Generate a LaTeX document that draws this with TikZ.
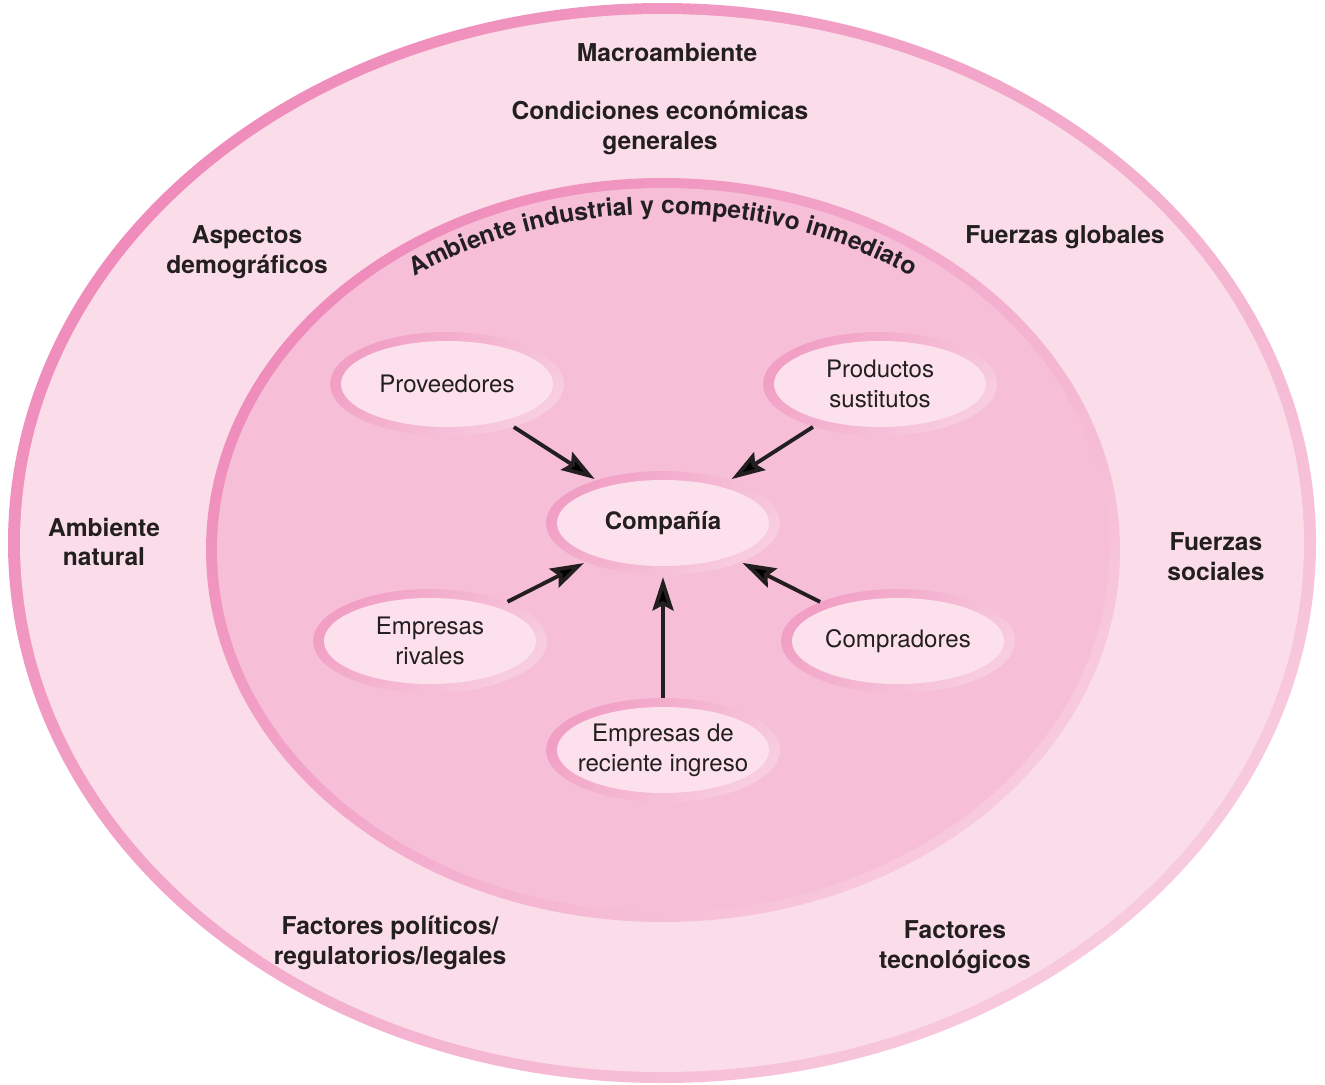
\documentclass[tikz,border=0pt]{standalone}
\usepackage{fontspec}
\setmainfont{TeX Gyre Heros}
\usetikzlibrary{arrows.meta,shapes.geometric,decorations.text}
\definecolor{ink}{HTML}{231F20}
\definecolor{outerfill}{HTML}{FBDDE9}
\definecolor{innerfill}{HTML}{F6BFD7}
\definecolor{ovalfill}{HTML}{FCE1EC}
\definecolor{rimdark}{HTML}{EF8CBB}
\definecolor{rimlight}{HTML}{F8CADD}
\definecolor{ovaldark}{HTML}{F19FC4}
\definecolor{ovallight}{HTML}{F8CDE0}

\begin{document}
\begin{tikzpicture}[x=0.02cm, y=0.02cm,
    bigrim/.style={left color=rimdark, right color=rimlight, shading angle=45},
    ovalrim/.style={left color=ovaldark, right color=ovallight, shading angle=45},
    macro/.style={font=\bfseries\fontsize{14}{17}\selectfont, text=ink, align=center},
    oval/.style={ellipse, minimum width=4.68cm, minimum height=2.08cm, inner sep=0pt,
      align=center, font=\fontsize{13.7}{17}\selectfont, text=ink},
    arr/.style={-{Stealth[length=19pt, width=12pt, inset=3pt]}, line width=2.2pt, draw=ink, shorten >=1pt}]
	%%%%% START %%%%%
	\useasboundingbox (0,0) rectangle (1325,-1085);

	% macroambiente
	\shade[bigrim] (662,-543) ellipse [x radius=654, y radius=540];
	\fill[outerfill] (662,-543) ellipse [x radius=642, y radius=529];

	% ambiente industrial
	\shade[bigrim] (663,-550) ellipse [x radius=457, y radius=372];
	\fill[innerfill] (663,-550) ellipse [x radius=446, y radius=362];

	\node[macro] (macro) at (667,-52) {Macroambiente};
	\node[macro] (econ) at (660,-128) {Condiciones económicas\\generales};
	\node[macro] (demo) at (247,-252) {Aspectos\\demográficos};
	\node[macro] (glob) at (1065,-237) {Fuerzas globales};
	\node[macro] (natu) at (104,-542) {Ambiente\\natural};
	\node[macro] (soci) at (1216,-557) {Fuerzas\\sociales};
	\node[macro] (poli) at (390,-943) {Factores políticos/\\regulatorios/legales};
	\node[macro] (tecn) at (955,-947) {Factores\\tecnológicos};

	\path[decorate, decoration={text along path, text align=center, text color=ink,
	    text={|\bfseries\fontsize{14}{17}\selectfont|Ambiente industrial y competitivo inmediato}}]
	  (663,-550) ++(150:428 and 336) arc [start angle=150, end angle=30, x radius=428, y radius=336];

	% fuerzas competitivas
	\foreach \nm/\pos/\txt in {
	    prov/{447,-384}/Proveedores,
	    sust/{880,-384}/{Productos\\sustitutos},
	    comp/{663,-523}/{\textbf{Compañía}},
	    riva/{430,-641}/{Empresas\\rivales},
	    comd/{898,-641}/Compradores,
	    nuev/{663,-750}/{Empresas de\\reciente ingreso}}{
	  \shade[ovalrim] (\pos) ellipse [x radius=117, y radius=52];
	  \fill[ovalfill] (\pos) ellipse [x radius=106, y radius=43];
	  \node[oval] (\nm) at (\pos) {\txt};
	}

	\draw[arr] (prov) -- (comp);
	\draw[arr] (sust) -- (comp);
	\draw[arr] (riva) -- (comp);
	\draw[arr] (comd) -- (comp);
	\draw[arr] (nuev) -- (comp);
	%%%%% END %%%%%
\end{tikzpicture}
\end{document}
